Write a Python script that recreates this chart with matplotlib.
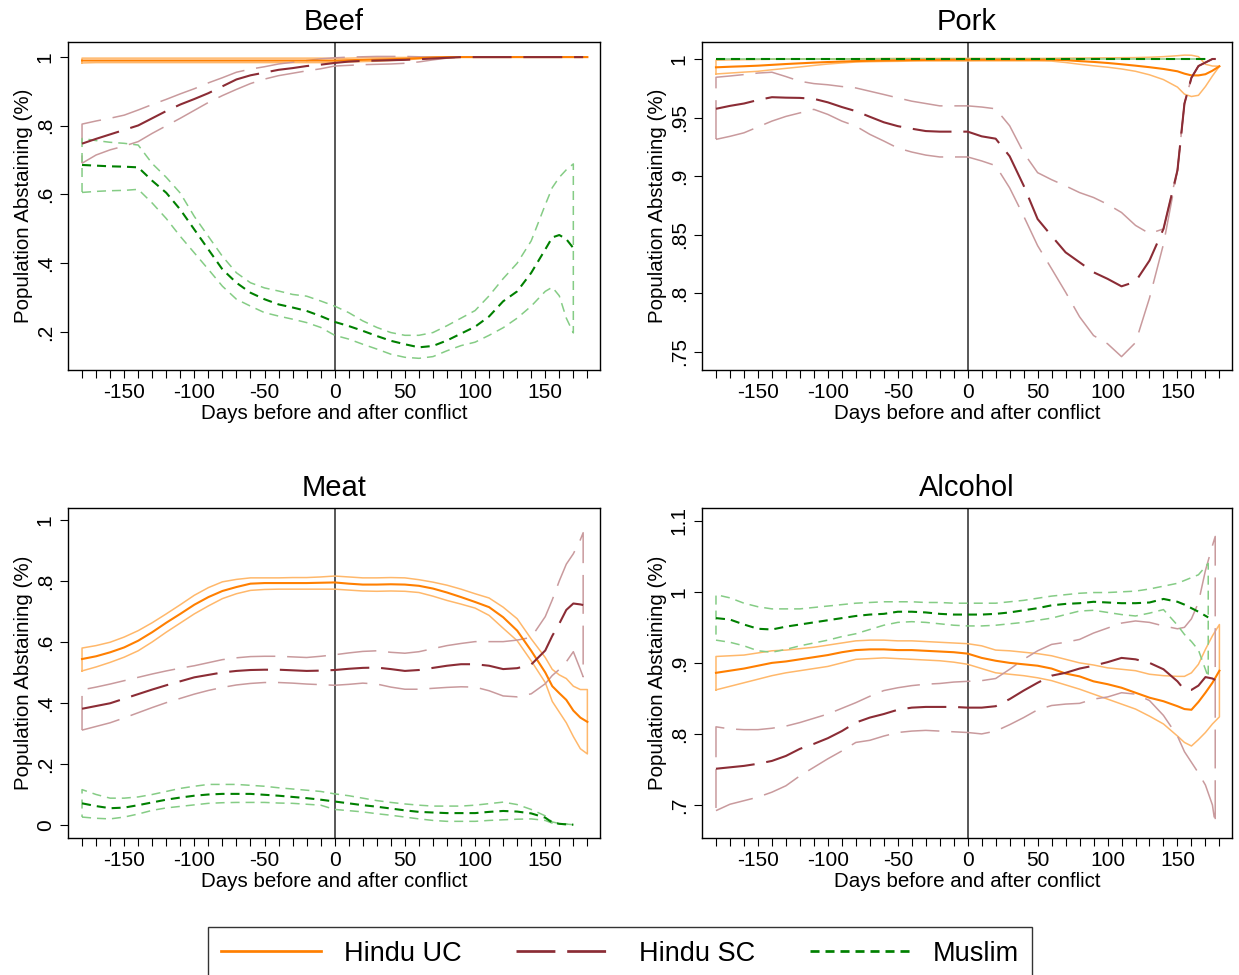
import numpy as np
import matplotlib
matplotlib.use("Agg")
import matplotlib.pyplot as plt
from matplotlib.lines import Line2D

plt.rcParams['font.family'] = ['Liberation Sans', 'DejaVu Sans']

# Days relative to the conflict date (finer steps near the end of the window)
DAYS = list(range(-180, 151, 10)) + [155, 160, 165, 170, 175, 180]

GROUPS = ["Hindu UC", "Hindu SC", "Muslim"]

# ---------------- Beef ----------------
beef_uc_est = [.990] * 19 + [.991, .992, .993, .994, .995, .997, .999] + [1.0] * 14
beef_uc_hi = [.997] * 18 + [.996, .997, .998, .998, .999, .999] + [1.0] * 16
beef_uc_lo = [.983] + [.984] * 17 + [.985, .986, .987, .988, .990, .992, .995, .997, .999] + [1.0] * 13

beef_sc_est = [.748, .762, .775, .788, .801, .822, .843, .862, .878, .895, .915, .935, .947,
               .955, .963, .968, .974, .978, .983, .987, .989, .990, .991, .992, .994, .996,
               .998] + [1.0] * 12
beef_sc_hi = [.805, .814, .822, .831, .846, .862, .877, .893, .908, .925, .940, .956, .965,
              .972, .980, .985, .990, .995, .998, 1.0, 1.001, 1.002, 1.002, 1.002, 1.001,
              1.0, 1.0] + [1.0] * 12
beef_sc_lo = [.691, .715, .730, .741, .754, .778, .800, .822, .845, .868, .888, .906, .923,
              .936, .946, .953, .960, .966, .974, .976, .978, .979, .980, .982, .986, .992,
              .997] + [1.0] * 12

beef_mu_est = [.686, .684, .682, .681, .679, .640, .605, .556, .498, .440, .382, .343, .314,
               .295, .280, .271, .261, .246, .229, .217, .203, .188, .174, .164, .155, .159,
               .175, .195, .215, .245, .289, .318, .372, .440, .475, .482, .470, .444]
beef_mu_hi = [.763, .757, .752, .749, .744, .690, .650, .604, .536, .478, .420, .372, .343,
              .328, .319, .309, .304, .290, .275, .256, .232, .213, .198, .190, .190, .198,
              .218, .240, .262, .305, .355, .400, .465, .570, .620, .650, .672, .689]
beef_mu_lo = [.606, .609, .611, .612, .615, .575, .530, .478, .430, .382, .333, .295, .275,
              .256, .246, .237, .227, .213, .190, .179, .164, .150, .135, .126, .123, .128,
              .145, .160, .170, .190, .212, .240, .275, .318, .330, .305, .240, .197]

# ---------------- Pork ----------------
pork_uc_est = [.9929, .9934, .9938, .9943, .9950, .9957, .9963, .9969, .9974, .9978, .9982,
               .9985, .9987, .9989, .9991, .9992, .9993, .9994, .9994, .9994, .9994, .9994,
               .9994, .9994, .9994, .9990, .9982, .9975, .9966, .9955, .9943, .9930, .9915,
               .9895, .9875, .9860, .9860, .9870, .9900, .9938]
pork_uc_hi = [.9990, .9992, .9994, .9996, .9998, .9999, 1.0, 1.0, 1.0, 1.0, 1.0002, 1.0003,
              1.0004, 1.0005, 1.0005, 1.0005, 1.0005, 1.0005, 1.0005, 1.0005, 1.0005, 1.0005,
              1.0005, 1.0005, 1.0006, 1.0007, 1.0008, 1.0009, 1.0010, 1.0011, 1.0012, 1.0015,
              1.0020, 1.0028, 1.0033, 1.0032, 1.0020, .9955, .9940, .9938]
pork_uc_lo = [.9872, .9880, .9888, .9895, .9908, .9920, .9932, .9945, .9957, .9966, .9974,
              .9977, .9979, .9980, .9982, .9983, .9983, .9983, .9983, .9984, .9984, .9984,
              .9984, .9984, .9982, .9970, .9955, .9942, .9930, .9915, .9895, .9865, .9824,
              .9760, .9700, .9680, .9690, .9765, .9855, .9938]

pork_sc_est = [.9575, .960, .962, .965, .9674, .967, .9668, .966, .963, .959, .9555, .9507,
               .946, .9427, .9405, .9385, .938, .938, .938, .934, .932, .917, .892, .8634,
               .849, .835, .8265, .818, .8124, .806, .810, .828, .855, .905, .962, .984, .994,
               .997, 1.0, 1.0]
pork_sc_hi = [.9844, .9855, .9867, .988, .9887, .985, .981, .979, .978, .9765, .9753, .9725,
              .9697, .9668, .964, .962, .960, .960, .960, .959, .9575, .943, .920, .903, .897,
              .8917, .886, .8818, .876, .869, .858, .851, .855, .905, .962, .984, .994, .997,
              1.0, 1.0]
pork_sc_lo = [.9314, .934, .937, .942, .947, .951, .954, .957, .9527, .947, .9427, .9357,
              .930, .924, .9206, .918, .9164, .9164, .9164, .913, .909, .890, .866, .8407,
              .821, .801, .780, .764, .757, .746, .758, .796, .842, .905, .962, .984, .994,
              .997, 1.0, 1.0]

pork_mu_est = [1.0] * 38
pork_mu_hi = [1.0] * 38
pork_mu_lo = [1.0] * 38

# ---------------- Meat ----------------
meat_uc_est = [.544, .553, .566, .582, .604, .632, .663, .692, .722, .747, .767, .780, .791,
               .793, .793, .793, .793, .794, .795, .791, .788, .788, .789, .788, .784, .775,
               .762, .747, .731, .714, .681, .637, .571, .500, .455, .432, .410, .375, .352,
               .338]
meat_uc_hi = [.580, .588, .599, .616, .637, .663, .692, .722, .753, .778, .797, .805, .810,
              .810, .810, .811, .811, .813, .816, .813, .810, .810, .811, .810, .804, .796,
              .786, .773, .758, .744, .714, .676, .610, .549, .510, .492, .480, .455, .444,
              .444]
meat_uc_lo = [.505, .518, .533, .550, .571, .600, .632, .662, .692, .718, .742, .758, .769,
              .772, .773, .773, .773, .773, .773, .770, .767, .766, .767, .766, .762, .750,
              .736, .724, .711, .687, .645, .604, .538, .467, .405, .370, .335, .290, .250,
              .233]

meat_sc_est = [.381, .390, .399, .414, .429, .444, .458, .471, .484, .492, .500, .505, .508,
               .509, .509, .507, .505, .506, .508, .512, .515, .516, .511, .505, .508, .515,
               .522, .527, .527, .522, .511, .514, .526, .572, .620, .660, .705, .726, .723,
               .721]
meat_sc_hi = [.443, .452, .462, .473, .484, .495, .505, .514, .522, .532, .542, .548, .552,
              .553, .553, .551, .549, .553, .558, .564, .569, .571, .566, .563, .568, .578,
              .588, .595, .601, .601, .601, .606, .615, .683, .738, .800, .855, .889, .935,
              .958]
meat_sc_lo = [.311, .323, .335, .351, .368, .385, .401, .415, .429, .441, .451, .459, .464,
              .467, .467, .465, .462, .460, .458, .461, .465, .462, .452, .445, .445, .448,
              .451, .453, .452, .440, .423, .420, .430, .463, .490, .510, .535, .568, .510,
              .486]

meat_mu_est = [.071, .062, .055, .057, .065, .074, .083, .090, .096, .100, .102, .102, .102,
               .099, .096, .092, .088, .083, .077, .071, .065, .060, .054, .048, .043, .041,
               .039, .039, .039, .043, .046, .044, .038, .024, .008, .004, .002, .001]
meat_mu_hi = [.116, .100, .088, .088, .092, .100, .110, .120, .127, .133, .133, .133, .130,
              .127, .122, .118, .114, .110, .102, .096, .088, .080, .074, .069, .065, .062,
              .062, .062, .065, .070, .075, .067, .051, .030, .010, .005, .003, .001]
meat_mu_lo = [.026, .022, .020, .026, .036, .048, .056, .061, .066, .071, .073, .074, .074,
              .074, .072, .071, .068, .065, .051, .047, .043, .037, .032, .026, .020, .015,
              .012, .012, .012, .015, .017, .019, .020, .015, .006, .003, .002, .001]

# ---------------- Alcohol ----------------
alc_uc_est = [.886, .889, .892, .896, .900, .902, .905, .908, .911, .915, .918, .919, .919,
              .918, .918, .917, .916, .915, .913, .907, .903, .900, .898, .896, .892, .885,
              .881, .874, .870, .865, .858, .851, .846, .839, .835, .834, .845, .858, .872,
              .889]
alc_uc_hi = [.909, .910, .911, .914, .917, .918, .920, .922, .925, .928, .931, .932, .932,
             .931, .931, .930, .929, .928, .927, .924, .918, .917, .915, .913, .910, .905,
             .900, .897, .893, .891, .889, .884, .882, .881, .881, .886, .898, .919, .938,
             .954]
alc_uc_lo = [.862, .867, .872, .877, .882, .886, .889, .892, .895, .900, .905, .906, .907,
             .906, .905, .904, .903, .901, .898, .892, .886, .884, .882, .879, .875, .869,
             .863, .856, .849, .842, .835, .825, .814, .797, .788, .783, .792, .802, .814,
             .824]

alc_sc_est = [.751, .753, .755, .758, .762, .769, .779, .786, .794, .804, .816, .823, .828,
              .834, .837, .838, .838, .838, .837, .837, .839, .849, .861, .872, .882, .886,
              .892, .896, .901, .907, .905, .900, .891, .874, .862, .862, .868, .880, .878,
              .876]
alc_sc_hi = [.810, .807, .806, .806, .808, .811, .816, .822, .828, .836, .844, .853, .861,
             .865, .868, .870, .871, .873, .874, .875, .878, .891, .905, .917, .926, .929,
             .933, .942, .949, .956, .959, .957, .952, .948, .950, .962, .985, 1.030, 1.065,
             1.078]
alc_sc_lo = [.692, .701, .706, .711, .718, .727, .741, .753, .765, .776, .788, .791, .797,
             .802, .804, .805, .804, .803, .802, .800, .804, .813, .823, .834, .840, .842,
             .843, .849, .852, .858, .856, .847, .826, .797, .775, .760, .745, .728, .700,
             .673]

alc_mu_est = [.963, .961, .954, .948, .947, .951, .954, .957, .960, .963, .966, .968, .969,
              .972, .972, .971, .969, .968, .968, .968, .969, .971, .974, .977, .981, .983,
              .984, .986, .985, .984, .984, .985, .990, .986, .982, .977, .972, .964]
alc_mu_hi = [.996, .9915, .984, .979, .976, .976, .976, .978, .980, .982, .984, .985, .986,
             .986, .986, .985, .985, .984, .984, .984, .984, .986, .988, .991, .994, .996,
             .998, .999, .999, 1.0, 1.001, 1.004, 1.008, 1.012, 1.016, 1.020, 1.024, 1.040]
alc_mu_lo = [.932, .929, .924, .917, .915, .919, .924, .928, .932, .937, .941, .947, .953,
             .957, .958, .957, .955, .953, .952, .952, .953, .955, .957, .960, .963, .968,
             .973, .974, .971, .968, .966, .970, .975, .953, .940, .930, .918, .880]

# Series that stop a few days short of the last grid day
LAST_DAY = {("Meat", "Hindu SC"): 177, ("Alcohol", "Hindu SC"): 177,
            ("Alcohol", "Muslim"): 172, ("Beef", "Hindu SC"): 177}

PANELS = [
    ("Beef", [(beef_uc_est, beef_uc_lo, beef_uc_hi), (beef_sc_est, beef_sc_lo, beef_sc_hi),
              (beef_mu_est, beef_mu_lo, beef_mu_hi)],
     [.2, .4, .6, .8, 1], (0.089, 1.044)),
    ("Pork", [(pork_uc_est, pork_uc_lo, pork_uc_hi), (pork_sc_est, pork_sc_lo, pork_sc_hi),
              (pork_mu_est, pork_mu_lo, pork_mu_hi)],
     [.75, .8, .85, .9, .95, 1], (0.7346, 1.0145)),
    ("Meat", [(meat_uc_est, meat_uc_lo, meat_uc_hi), (meat_sc_est, meat_sc_lo, meat_sc_hi),
              (meat_mu_est, meat_mu_lo, meat_mu_hi)],
     [0, .2, .4, .6, .8, 1], (-0.0426, 1.039)),
    ("Alcohol", [(alc_uc_est, alc_uc_lo, alc_uc_hi), (alc_sc_est, alc_sc_lo, alc_sc_hi),
                 (alc_mu_est, alc_mu_lo, alc_mu_hi)],
     [.7, .8, .9, 1, 1.1], (0.6535, 1.118)),
]

W, H = 1239, 975
AX_BOXES = [(68, 42, 600, 370), (702, 42, 1232, 370),
            (68, 508, 600, 838), (702, 508, 1232, 838)]

EST_COLORS = ["#FF7F00", "#8B2C35", "#008000"]
CI_COLORS = ["#FFB86B", "#C99A9D", "#85CC85"]
DASH_PT = [None, (28.0, 8.5), (6.5, 4.3)]   # on/off lengths in points
EST_LW = 1.5
CI_LW = 1.1


def dash_style(i, lw):
    if DASH_PT[i] is None:
        return dict(linestyle="-")
    on, off = DASH_PT[i]
    return dict(linestyle=(0, (on / lw, off / lw)))


def stata_label(v):
    s = f"{v:g}"
    if s.startswith("0."):
        s = s[1:]
    return s


fig = plt.figure(figsize=(W / 100, H / 100), dpi=100)

for (title, groups, yticks, ylim), (l, t, r, b) in zip(PANELS, AX_BOXES):
    ax = fig.add_axes([l / W, 1 - b / H, (r - l) / W, (b - t) / H])
    ax.axvline(0, color="#2a2a2a", lw=1.1, zorder=1.5)

    series_xy = []
    for gi, (est, lo, hi) in enumerate(groups):
        n = len(est)
        x = np.array(DAYS[:n], dtype=float)
        key = (title, GROUPS[gi])
        if key in LAST_DAY:
            x[-1] = LAST_DAY[key]
        series_xy.append((x, np.array(est), np.array(lo), np.array(hi)))

    # confidence bands drawn as closed outlines
    for gi, (x, est, lo, hi) in enumerate(series_xy):
        px = np.concatenate([x, x[::-1], x[:1]])
        py = np.concatenate([lo, hi[::-1], lo[:1]])
        ax.plot(px, py, color=CI_COLORS[gi], lw=CI_LW, zorder=2,
                **dash_style(gi, CI_LW))
    # point estimates
    for gi, (x, est, lo, hi) in enumerate(series_xy):
        ax.plot(x, est, color=EST_COLORS[gi], lw=EST_LW, zorder=3,
                **dash_style(gi, EST_LW))

    ax.set_xlim(-190, 189)
    ax.set_ylim(*ylim)
    xt = list(range(-180, 181, 10))
    ax.set_xticks(xt)
    ax.set_xticklabels([str(d) if (d % 50 == 0 and abs(d) <= 150) else "" for d in xt])
    ax.set_yticks(yticks)
    ax.set_yticklabels([stata_label(v) for v in yticks], rotation=90, va="center")
    ax.tick_params(direction="out", length=5.5, width=0.8, labelsize=15, pad=4)
    for sp in ax.spines.values():
        sp.set_linewidth(1.0)
    ax.set_title(title, fontsize=21, pad=8.5)
    ax.set_xlabel("Days before and after conflict", fontsize=14.8, labelpad=1)
    ax.set_ylabel("Population Abstaining (%)", fontsize=14.8, labelpad=2)

handles = [Line2D([], [], color=EST_COLORS[i], lw=EST_LW * 1.3, **dash_style(i, EST_LW * 1.3))
           for i in range(3)]
leg = fig.legend(handles, GROUPS, loc="upper center", bbox_to_anchor=(620 / W, 1 - 927 / H),
                 ncol=3, frameon=True, fancybox=False, edgecolor="black", fontsize=19.5,
                 handlelength=3.7, columnspacing=2.0, handletextpad=0.85, borderpad=0.5,
                 borderaxespad=0.0)
leg.get_frame().set_linewidth(1.0)

fig.savefig("out.png", dpi=100, facecolor="white")
